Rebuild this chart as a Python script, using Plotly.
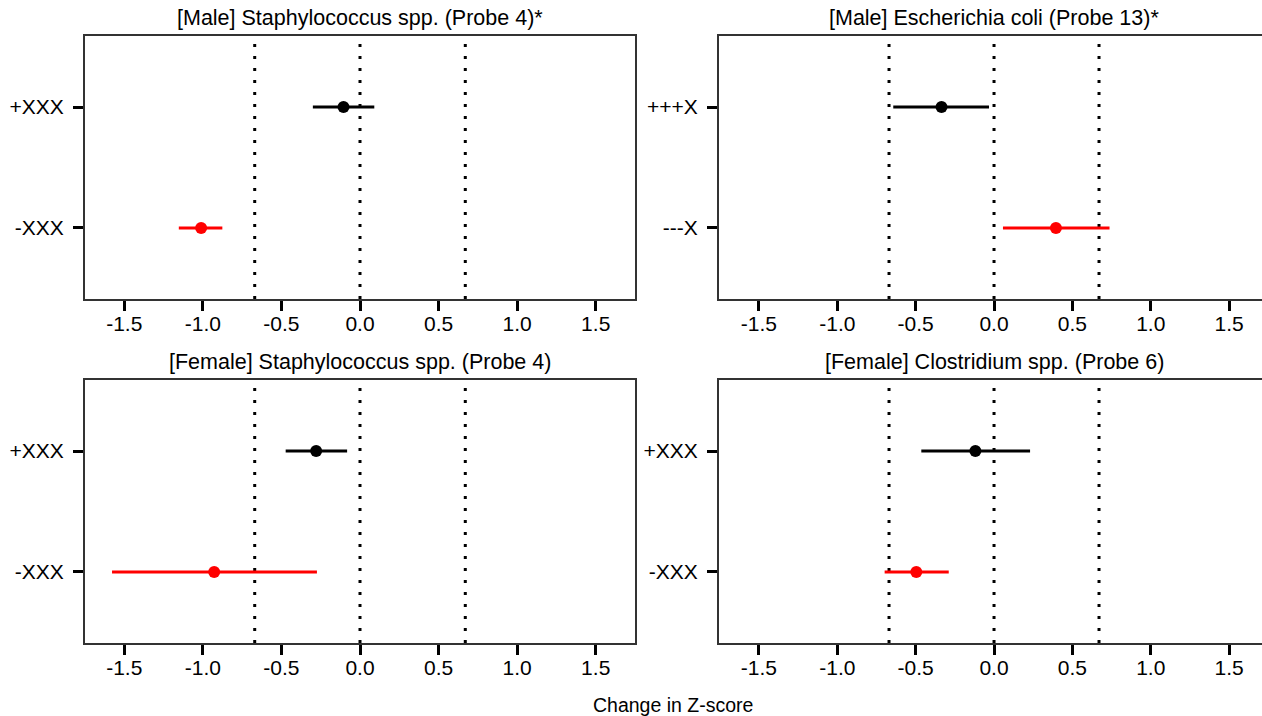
import plotly.graph_objects as go

# ---------------- data ----------------
titles = ["[Male] Staphylococcus spp. (Probe 4)*",
          "[Male] Escherichia coli (Probe 13)*",
          "[Female] Staphylococcus spp. (Probe 4)",
          "[Female] Clostridium spp. (Probe 6)"]
upper_labels = ["+XXX", "+++X", "+XXX", "+XXX"]
lower_labels = ["-XXX", "---X", "-XXX", "-XXX"]

upper_mean = [-0.105, -0.335, -0.279, -0.119]
upper_low = [-0.300, -0.643, -0.473, -0.464]
upper_high = [0.091, -0.032, -0.082, 0.230]

lower_mean = [-1.011, 0.395, -0.928, -0.496]
lower_low = [-1.153, 0.057, -1.578, -0.698]
lower_high = [-0.876, 0.737, -0.274, -0.289]

ref_lines = [-0.67, 0.0, 0.67]
x_tick_vals = [-1.5, -1.0, -0.5, 0.0, 0.5, 1.0, 1.5]
x_tick_text = ["-1.5", "-1.0", "-0.5", "0.0", "0.5", "1.0", "1.5"]
x_title = "Change in Z-score"

upper_color = "#000000"
lower_color = "#FF0000"

# ---------------- layout geometry (pixels) ----------------
W, H = 1262, 716
col_px = [(85, 635), (719, 1262)]
row_px = [(36, 299), (380, 643)]
x_ranges = [[-1.75, 1.75], [-1.755, 1.71]]
y_range = [0.413, 2.587]
title_y_px = [18, 362]

FONT = "Liberation Sans, Arial, sans-serif"
border_color = "#333333"
TICK_FS = 21
TITLE_FS = 21.5

fig = go.Figure()
layout = dict(
    width=W, height=H, autosize=False,
    margin=dict(l=0, r=0, t=0, b=0),
    paper_bgcolor="white", plot_bgcolor="white",
    showlegend=False,
    font=dict(family=FONT, size=TICK_FS, color="black"),
)
shapes = []
annotations = []

for i in range(4):
    r, c = divmod(i, 2)
    n = "" if i == 0 else str(i + 1)
    xa, ya = "x" + n, "y" + n
    x0, x1 = col_px[c]
    y0, y1 = row_px[r]
    layout["xaxis" + n] = dict(
        domain=[x0 / W, x1 / W], range=x_ranges[c], anchor=ya,
        tickmode="array", tickvals=x_tick_vals, ticktext=x_tick_text,
        ticks="outside", ticklen=10, tickwidth=3, tickcolor="black",
        ticklabelstandoff=-5,
        showline=True, linecolor=border_color, linewidth=2, mirror=True,
        showgrid=False, zeroline=False,
        tickfont=dict(size=TICK_FS, color="black", family=FONT),
    )
    layout["yaxis" + n] = dict(
        domain=[1 - y1 / H, 1 - y0 / H], range=y_range, anchor=xa,
        tickmode="array", tickvals=[2, 1],
        ticktext=[upper_labels[i], lower_labels[i]],
        ticks="outside", ticklen=10, tickwidth=3, tickcolor="black",
        ticklabelstandoff=5,
        showline=True, linecolor=border_color, linewidth=2,
        mirror=(c == 0),
        showgrid=False, zeroline=False,
        tickfont=dict(size=TICK_FS, color="black", family=FONT),
    )
    for v in ref_lines:
        shapes.append(dict(type="line", xref=xa, yref=ya + " domain",
                           x0=v, x1=v, y0=0, y1=1, layer="below",
                           line=dict(color="black", width=3, dash="3px,9px")))
    # series
    for mean, lo, hi, yv, col in [
        (upper_mean[i], upper_low[i], upper_high[i], 2, upper_color),
        (lower_mean[i], lower_low[i], lower_high[i], 1, lower_color),
    ]:
        fig.add_trace(go.Scatter(
            x=[mean], y=[yv], xaxis=xa, yaxis=ya, mode="markers",
            marker=dict(size=12, color=col),
            error_x=dict(type="data", symmetric=False,
                         array=[hi - mean], arrayminus=[mean - lo],
                         color=col, thickness=3, width=0),
            hoverinfo="skip",
        ))
    annotations.append(dict(text=titles[i], xref=xa, yref="paper",
                             x=0, y=1 - title_y_px[r] / H,
                             xanchor="center", yanchor="middle",
                             showarrow=False,
                             font=dict(size=TITLE_FS, family=FONT, color="black")))

annotations.append(dict(text=x_title, xref="paper", yref="paper",
                        x=673 / W, y=1 - 705 / H, xanchor="center",
                        yanchor="middle", showarrow=False,
                        font=dict(size=19.5, family=FONT, color="black")))

layout["shapes"] = shapes
layout["annotations"] = annotations
fig.update_layout(**layout)
fig.write_html("out.html")
